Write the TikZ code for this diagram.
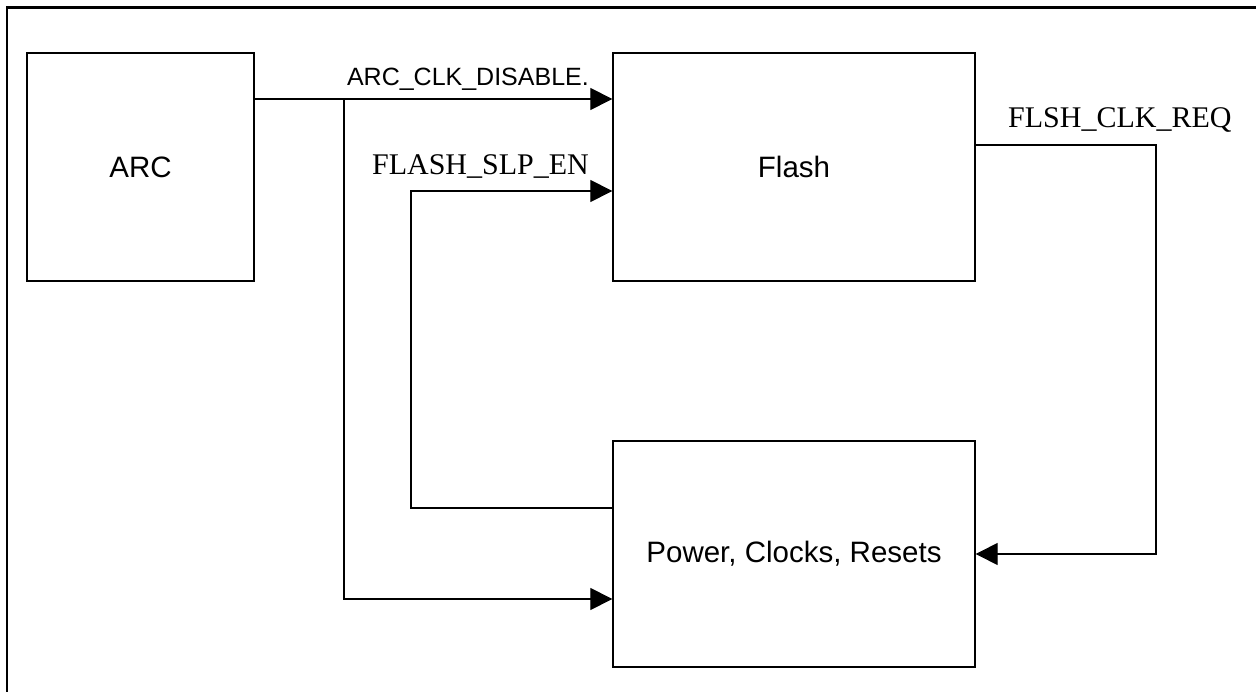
\documentclass[tikz,border=0pt]{standalone}
\usepackage{fontspec}
\setmainfont{Liberation Serif}
\setsansfont{Liberation Sans}
\usetikzlibrary{arrows.meta}
\tikzset{
  blockbox/.style={draw=black, line width=1.3pt, fill=white, inner sep=0pt,
    font=\sffamily\fontsize{29.5}{34}\selectfont},
  conn/.style={draw=black, line width=1.1pt},
  arrowconn/.style={conn, -{Triangle[length=22pt,width=22pt]}},
  sanslabel/.style={inner sep=0pt, font=\sffamily\fontsize{25}{30}\selectfont},
  seriflabel/.style={inner sep=0pt, font=\rmfamily\fontsize{30}{34}\selectfont},
  frameline/.style={draw=black, line width=2.4pt}
}
\begin{document}
\begin{tikzpicture}[x=1pt,y=-1pt]
\useasboundingbox (0,0) rectangle (1256,692);
% frame
\coordinate (fa) at (7,700);
\coordinate (fb) at (7,7.5);
\coordinate (fc) at (1262,7.5);
\draw[frameline] (fa) -- (fb) -- (fc);
% blocks
\node[blockbox, minimum width=227pt, minimum height=228pt] (arc) at (140.5,167) {ARC};
\node[blockbox, minimum width=362pt, minimum height=228pt] (flash) at (794,167) {Flash};
\node[blockbox, minimum width=362pt, minimum height=226pt] (power) at (794,554) {Power, Clocks, Resets};
% helper coordinates
\coordinate (j1) at (344,99);
\coordinate (j1b) at (344,599);
\coordinate (s1) at (411,508);
\coordinate (s2) at (411,191);
\coordinate (r1) at (1156,145);
\coordinate (r2) at (1156,554);
% ARC_CLK_DISABLE
\draw[arrowconn] (arc.east |- j1) -- (flash.west |- j1);
\draw[arrowconn] (j1) -- (j1b) -- (power.west |- j1b);
\node[sanslabel, anchor=base east] (lbl1) at (589,86) {ARC\_CLK\_DISABLE.};
% FLASH_SLP_EN
\draw[arrowconn] (power.west |- s1) -- (s1) -- (s2) -- (flash.west |- s2);
\node[seriflabel, anchor=base east] (lbl2) at (589,175) {FLASH\_SLP\_EN};
% FLSH_CLK_REQ
\draw[arrowconn] (flash.east |- r1) -- (r1) -- (r2) -- (power.east |- r2);
\node[seriflabel, anchor=base west] (lbl3) at (1008,128) {FLSH\_CLK\_REQ};
\end{tikzpicture}
\end{document}
